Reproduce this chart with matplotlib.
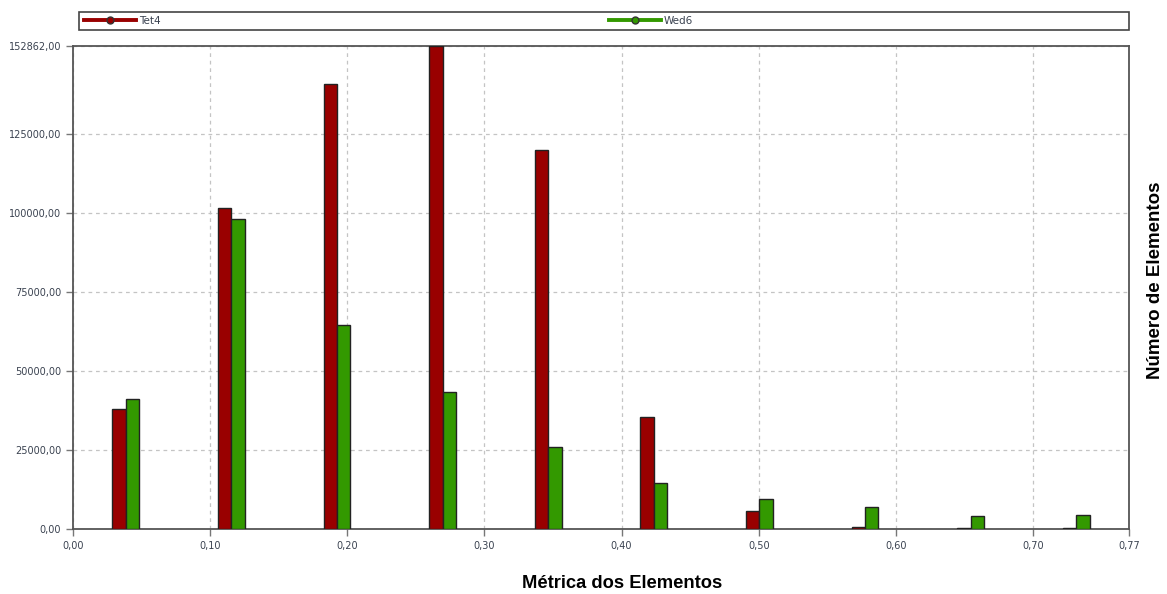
import numpy as np
import matplotlib.pyplot as plt
from matplotlib.lines import Line2D
from matplotlib.patches import Rectangle
from matplotlib.ticker import FuncFormatter

# ── Data: element metric histogram (10 bins over 0..0.77) ──
bin_centers = [0.0385, 0.1155, 0.1925, 0.2695, 0.3465,
               0.4235, 0.5005, 0.5775, 0.6545, 0.7315]
tet4 = [37900, 101500, 140900, 152862, 120000,
        35500, 5800, 750, 200, 200]
wed6 = [41000, 98100, 64700, 43400, 26050,
        14450, 9600, 7050, 4200, 4550]
series_names = ['Tet4', 'Wed6']
y_ticks = [0, 25000, 50000, 75000, 100000, 125000, 152862]
x_ticks = [0.0, 0.1, 0.2, 0.3, 0.4, 0.5, 0.6, 0.7, 0.77]

RED = '#990000'
GREEN = '#339900'
TICK_COLOR = '#3a4250'
W, H = 1167, 594

fig = plt.figure(figsize=(11.67, 5.94), dpi=100)
ax = fig.add_axes([73/W, 65/H, 1056/W, 483/H])

w = 0.0098
x = np.array(bin_centers)
ax.bar(x - w/2, tet4, width=w, color=RED, edgecolor='#222222', linewidth=1, zorder=3)
ax.bar(x + w/2, wed6, width=w, color=GREEN, edgecolor='#222222', linewidth=1, zorder=3)

ax.set_xlim(0, 0.77)
ax.set_ylim(0, 152862)
ax.set_xticks(x_ticks)
ax.set_yticks(y_ticks)
comma = FuncFormatter(lambda v, p: f"{v:.2f}".replace('.', ','))
ax.xaxis.set_major_formatter(comma)
ax.yaxis.set_major_formatter(comma)
ax.tick_params(labelsize=7, labelcolor=TICK_COLOR, color='#777777',
               length=5, width=1, direction='out')

ax.grid(True, color='#c4c4c4', linestyle=(0, (3, 3)), linewidth=0.9, zorder=0)
for s in ax.spines.values():
    s.set_color('#555555')
    s.set_linewidth(1.3)

# legend strip across the top: frame drawn separately, entries placed inside
fig.patches.append(Rectangle((79/W, (H-30)/H), 1050/W, 18/H, transform=fig.transFigure,
                             facecolor='white', edgecolor='#444444', linewidth=1.2))
handles = [Line2D([], [], color=RED, lw=2.8, marker='o', markersize=5,
                  markerfacecolor=RED, markeredgecolor='#333333'),
           Line2D([], [], color=GREEN, lw=2.8, marker='o', markersize=5,
                  markerfacecolor=GREEN, markeredgecolor='#333333')]
leg = fig.legend(handles, series_names, loc='center left', ncol=2,
                 bbox_to_anchor=(84/W, (H-21)/H), frameon=False, fontsize=7.5,
                 handlelength=5.0, handletextpad=0.3, columnspacing=43.0,
                 borderpad=0, borderaxespad=0)
for t in leg.get_texts():
    t.set_color(TICK_COLOR)

fig.text(622/W, 11/H, 'Métrica dos Elementos', ha='center', va='center',
         fontsize=13.2, fontweight='bold', family='Liberation Sans')
fig.text(1155/W, (H-280)/H, 'Número de Elementos', ha='center', va='center',
         rotation=90, fontsize=13.5, fontweight='bold', family='Liberation Sans')

fig.savefig('out.png', dpi=100)
